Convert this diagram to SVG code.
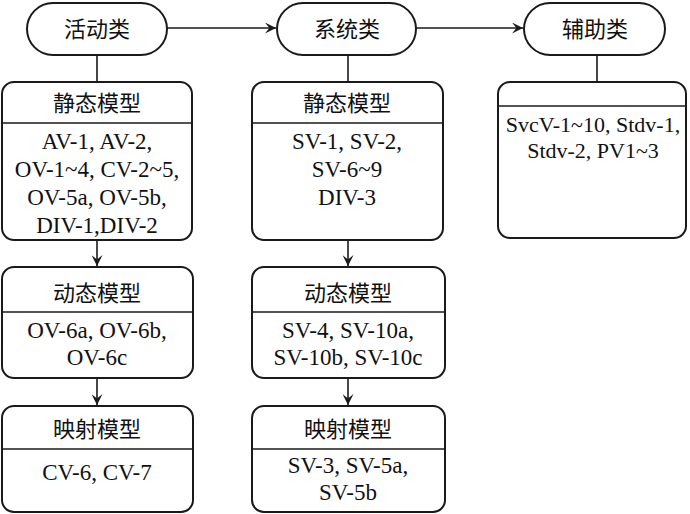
<svg xmlns="http://www.w3.org/2000/svg" width="690" height="514" viewBox="0 0 690 514">
<style>
.b{fill:#fff;stroke:#1a1a1a;stroke-width:2}
.l{stroke:#1a1a1a;stroke-width:1.6;fill:none}
text{font-family:"Liberation Serif","Noto Sans CJK SC",serif;font-size:23px;fill:#111;text-anchor:middle}
.h{font-size:22px}
.r{font-size:22px}
</style>
<defs><marker id="a" viewBox="0 0 10 10" refX="10" refY="5" markerWidth="11" markerHeight="11" orient="auto" markerUnits="userSpaceOnUse"><path d="M0,0 L10,5 L0,10 L4,5 Z" fill="#1a1a1a"/></marker></defs>
<g id="connectors">
<line class="l" x1="167" y1="28" x2="276" y2="28" marker-end="url(#a)"/>
<line class="l" x1="416" y1="28" x2="523" y2="28" marker-end="url(#a)"/>
<line class="l" x1="97" y1="55" x2="97" y2="82"/>
<line class="l" x1="348" y1="55" x2="348" y2="82"/>
<line class="l" x1="597" y1="55" x2="597" y2="82"/>
<line class="l" x1="97" y1="240" x2="97" y2="266" marker-end="url(#a)"/>
<line class="l" x1="348" y1="240" x2="348" y2="266" marker-end="url(#a)"/>
<line class="l" x1="97" y1="378" x2="97" y2="405" marker-end="url(#a)"/>
<line class="l" x1="348" y1="378" x2="348" y2="405" marker-end="url(#a)"/>
</g>
<g id="p1"><rect class="b" x="27" y="3" width="140" height="52" rx="26"/><text class="h" x="97" y="37">活动类</text></g>
<g id="p2"><rect class="b" x="277" y="3" width="139" height="52" rx="26"/><text class="h" x="347" y="37">系统类</text></g>
<g id="p3"><rect class="b" x="524" y="3" width="141" height="52" rx="26"/><text class="h" x="595" y="37">辅助类</text></g>
<g id="a1"><rect class="b" x="2" y="82" width="190" height="158" rx="12"/><line class="l" x1="2" y1="123" x2="192" y2="123"/>
<text class="h" x="97" y="111">静态模型</text>
<text x="97" y="149">AV-1, AV-2,</text><text x="97" y="177">OV-1~4, CV-2~5,</text><text x="97" y="205">OV-5a, OV-5b,</text><text x="97" y="233">DIV-1,DIV-2</text></g>
<g id="a2"><rect class="b" x="2" y="267" width="191" height="111" rx="12"/><line class="l" x1="2" y1="312" x2="193" y2="312"/>
<text class="h" x="97" y="301">动态模型</text>
<text x="97" y="338">OV-6a, OV-6b,</text><text x="97" y="365">OV-6c</text></g>
<g id="a3"><rect class="b" x="2" y="406" width="191" height="106" rx="12"/><line class="l" x1="2" y1="449" x2="193" y2="449"/>
<text class="h" x="97" y="437">映射模型</text>
<text x="97" y="480">CV-6, CV-7</text></g>
<g id="s1"><rect class="b" x="252" y="82" width="191" height="158" rx="12"/><line class="l" x1="252" y1="123" x2="443" y2="123"/>
<text class="h" x="347" y="111">静态模型</text>
<text x="347" y="149">SV-1, SV-2,</text><text x="347" y="177">SV-6~9</text><text x="347" y="205">DIV-3</text></g>
<g id="s2"><rect class="b" x="252" y="267" width="193" height="111" rx="12"/><line class="l" x1="252" y1="312" x2="445" y2="312"/>
<text class="h" x="348" y="301">动态模型</text>
<text x="348" y="338">SV-4, SV-10a,</text><text x="348" y="365">SV-10b, SV-10c</text></g>
<g id="s3"><rect class="b" x="252" y="406" width="193" height="106" rx="12"/><line class="l" x1="252" y1="449" x2="445" y2="449"/>
<text class="h" x="348" y="437">映射模型</text>
<text x="348" y="473">SV-3, SV-5a,</text><text x="348" y="500">SV-5b</text></g>
<g id="f1"><rect class="b" x="498" y="82" width="188" height="156" rx="12"/><line class="l" x1="498" y1="106" x2="686" y2="106"/>
<text class="r" x="593" y="132">SvcV-1~10, Stdv-1,</text><text class="r" x="593" y="158">Stdv-2, PV1~3</text></g>
</svg>
